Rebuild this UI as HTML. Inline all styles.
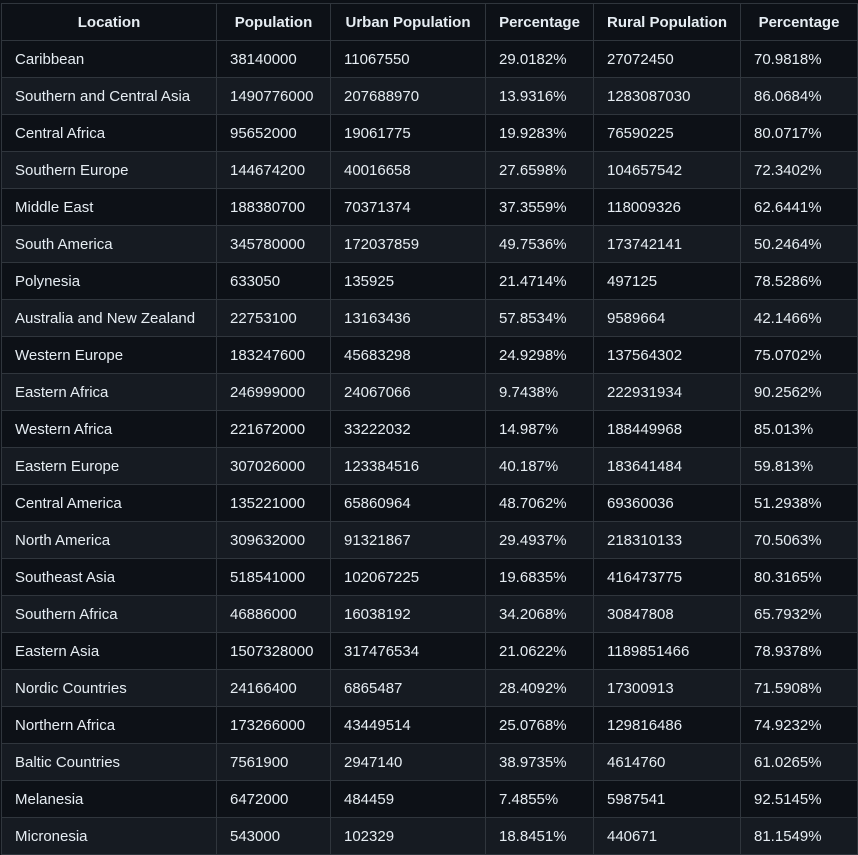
<!DOCTYPE html>
<html><head><meta charset="utf-8"><style>
html,body{margin:0;padding:0;background:#0d1117;width:858px;height:854px;overflow:hidden}
table{position:absolute;left:1px;top:3px;border-collapse:collapse;table-layout:fixed;width:857px;font-family:"Liberation Sans",sans-serif;font-size:15px;color:#e6edf3}
th,td{border:1px solid #30363d;height:37px;padding:0 0 0 13px;box-sizing:border-box;white-space:nowrap;overflow:hidden;text-align:left}
tr{height:37px}
th{font-weight:bold;text-align:center;padding:0}
tbody tr:nth-child(even){background:#161b22}
tbody tr:nth-child(odd){background:#0d1117}
</style></head><body>
<table>
<colgroup><col style="width:215px"><col style="width:114px"><col style="width:155px"><col style="width:108px"><col style="width:147px"><col style="width:117px"></colgroup>
<thead><tr>
<th>Location</th>
<th>Population</th>
<th>Urban Population</th>
<th>Percentage</th>
<th>Rural Population</th>
<th>Percentage</th>
</tr></thead>
<tbody id="tb"></tbody>
</table>
<script>
const rows=[
["Caribbean","38140000","11067550","29.0182%","27072450","70.9818%"],
["Southern and Central Asia","1490776000","207688970","13.9316%","1283087030","86.0684%"],
["Central Africa","95652000","19061775","19.9283%","76590225","80.0717%"],
["Southern Europe","144674200","40016658","27.6598%","104657542","72.3402%"],
["Middle East","188380700","70371374","37.3559%","118009326","62.6441%"],
["South America","345780000","172037859","49.7536%","173742141","50.2464%"],
["Polynesia","633050","135925","21.4714%","497125","78.5286%"],
["Australia and New Zealand","22753100","13163436","57.8534%","9589664","42.1466%"],
["Western Europe","183247600","45683298","24.9298%","137564302","75.0702%"],
["Eastern Africa","246999000","24067066","9.7438%","222931934","90.2562%"],
["Western Africa","221672000","33222032","14.987%","188449968","85.013%"],
["Eastern Europe","307026000","123384516","40.187%","183641484","59.813%"],
["Central America","135221000","65860964","48.7062%","69360036","51.2938%"],
["North America","309632000","91321867","29.4937%","218310133","70.5063%"],
["Southeast Asia","518541000","102067225","19.6835%","416473775","80.3165%"],
["Southern Africa","46886000","16038192","34.2068%","30847808","65.7932%"],
["Eastern Asia","1507328000","317476534","21.0622%","1189851466","78.9378%"],
["Nordic Countries","24166400","6865487","28.4092%","17300913","71.5908%"],
["Northern Africa","173266000","43449514","25.0768%","129816486","74.9232%"],
["Baltic Countries","7561900","2947140","38.9735%","4614760","61.0265%"],
["Melanesia","6472000","484459","7.4855%","5987541","92.5145%"],
["Micronesia","543000","102329","18.8451%","440671","81.1549%"]];
const cols=["location","population","urban-population","urban-percentage","rural-population","rural-percentage"];
const tb=document.getElementById('tb');
rows.forEach(r=>{
const tr=document.createElement('tr');


r.forEach((v,i)=>{
const td=document.createElement('td');


td.textContent=v;tr.appendChild(td);});
tb.appendChild(tr);});
</script>
</body></html>
